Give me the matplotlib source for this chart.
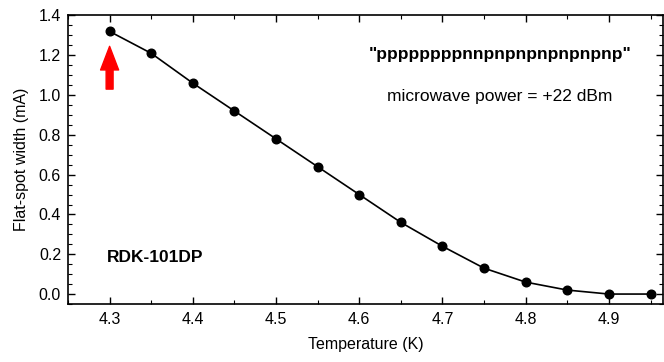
import matplotlib
matplotlib.use("Agg")
import matplotlib.pyplot as plt
from matplotlib.ticker import MultipleLocator

plt.rcParams["font.family"] = ["Liberation Sans", "DejaVu Sans"]

temperature = [4.30, 4.35, 4.40, 4.45, 4.50, 4.55, 4.60, 4.65, 4.70, 4.75, 4.80, 4.85, 4.90, 4.95]
width_ma = [1.32, 1.21, 1.06, 0.92, 0.78, 0.64, 0.50, 0.36, 0.24, 0.13, 0.06, 0.02, 0.0, 0.0]

pattern_label = '"ppppppppnnpnpnpnpnpnpnp"'
power_label = "microwave power = +22 dBm"
device_label = "RDK-101DP"

fig = plt.figure(figsize=(6.64, 3.62), dpi=100)
ax = fig.add_axes([68 / 664, 1 - 304 / 362, (663 - 68) / 664, (304 - 15.5) / 362])

ax.plot(temperature, width_ma, color="black", lw=1.2, marker="o", ms=6.2,
        markerfacecolor="black", markeredgecolor="black")

# red arrow pointing at the first point
ax.annotate("", xy=(temperature[0], 1.245), xytext=(temperature[0], 1.03),
            arrowprops=dict(facecolor="red", edgecolor="red", width=5,
                            headwidth=13, headlength=17, shrink=0))

ax.set_xlim(4.25, 4.965)
ax.set_ylim(-0.05, 1.4)
ax.xaxis.set_major_locator(MultipleLocator(0.1))
ax.xaxis.set_minor_locator(MultipleLocator(0.05))
ax.yaxis.set_major_locator(MultipleLocator(0.2))
ax.yaxis.set_minor_locator(MultipleLocator(0.05))
ax.set_yticks([0.0, 0.2, 0.4, 0.6, 0.8, 1.0, 1.2, 1.4])
ax.tick_params(which="both", direction="in", top=True, right=True, labelsize=11.5)
ax.tick_params(which="major", length=5, width=1)
ax.tick_params(which="minor", length=3, width=0.8)
ax.tick_params(axis="x", pad=6)
ax.tick_params(axis="y", pad=5)
for s in ax.spines.values():
    s.set_linewidth(1.2)

ax.set_xlabel("Temperature (K)", fontsize=11.5, labelpad=7)
ax.set_ylabel("Flat-spot width (mA)", fontsize=11.5, labelpad=7)

ax.text(500, 362 - 55, pattern_label, transform=None, ha="center", va="center",
        fontsize=12.5, fontweight="bold")
ax.text(500, 362 - 97, power_label, transform=None, ha="center", va="center",
        fontsize=12.5)
ax.text(107, 362 - 257, device_label, transform=None, ha="left", va="center",
        fontsize=12.5, fontweight="bold")

fig.savefig("out.png", dpi=100)
